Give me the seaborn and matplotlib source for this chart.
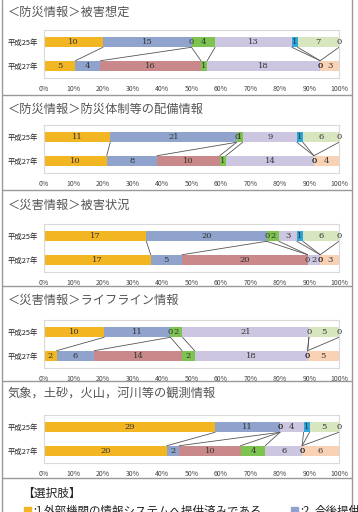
import numpy as np
import pandas as pd
import seaborn as sns
import matplotlib.pyplot as plt
from matplotlib.lines import Line2D
from matplotlib.patches import Rectangle

# years on the y axis
years = ['平成25年', '平成27年']

# panel titles
titles = [
    '＜防災情報＞被害想定',
    '＜防災情報＞防災体制等の配備情報',
    '＜災害情報＞被害状況',
    '＜災害情報＞ライフライン情報',
    '気象，土砂，火山，河川等の観測情報',
]

# answer options 1..8
options = ['1', '2', '3', '4', '5', '6', '7', '8']
colors = ['#F2B622', '#8FA3CC', '#C98889', '#7DC34F',
          '#CDC6E0', '#2EA6DA', '#D8E6C0', '#F9D2B6']

# counts per option (H25 row, H27 row) for each panel
p1_h25 = [10, 15, 0, 4, 13, 1, 7, 0]
p1_h27 = [5, 4, 16, 1, 18, 0, 0, 3]
p2_h25 = [11, 21, 0, 1, 9, 1, 6, 0]
p2_h27 = [10, 8, 10, 1, 14, 0, 0, 4]
p3_h25 = [17, 20, 0, 2, 3, 1, 6, 0]
p3_h27 = [17, 5, 20, 0, 2, 0, 0, 3]
p4_h25 = [10, 11, 0, 2, 21, 0, 5, 0]
p4_h27 = [2, 6, 14, 2, 18, 0, 0, 5]
p5_h25 = [29, 11, 0, 0, 4, 1, 5, 0]
p5_h27 = [20, 2, 10, 4, 6, 0, 0, 6]

panels = [(p1_h25, p1_h27), (p2_h25, p2_h27), (p3_h25, p3_h27),
          (p4_h25, p4_h27), (p5_h25, p5_h27)]

sns.set_style('white')
plt.rcParams['font.family'] = ['Noto Sans CJK JP', 'DejaVu Sans']

W, H = 358, 512
fig = plt.figure(figsize=(W / 100, H / 100), dpi=100)

bar_y = [42, 137, 236, 332, 427]   # pixel centre of the H25 bar in each panel
title_y = [12, 109, 205, 300, 394]
seps = [95, 190, 286, 381, 478]
bar_h = 0.44
x0, x1 = 44, 339

for i, (h25, h27) in enumerate(panels):
    top = bar_y[i] - 12
    ax = fig.add_axes([x0 / W, 1 - (top + 48) / H, (x1 - x0) / W, 48 / H])

    df = pd.DataFrame({'year': np.repeat(years, len(options)),
                       'option': options * 2,
                       'count': h25 + h27})
    df['pct'] = df['count'] / df.groupby('year')['count'].transform('sum') * 100
    df['end'] = df.groupby('year')['pct'].cumsum()
    df['start'] = df['end'] - df['pct']

    # stacked bars: draw cumulative ends from the last option to the first
    for k in reversed(range(len(options))):
        sub = df[df['option'] == options[k]]
        sns.barplot(data=sub, x='end', y='year', order=years, orient='h',
                    color=colors[k], saturation=1, width=bar_h,
                    linewidth=0, ax=ax)

    # value labels
    for _, r in df.iterrows():
        yi = years.index(r['year'])
        ax.text((r['start'] + r['end']) / 2, yi, str(int(r['count'])),
                ha='center', va='center', fontsize=6,
                family='DejaVu Serif', color='#333333')

    # series lines between the two bars
    e25 = df[df['year'] == years[0]]['end'].values
    e27 = df[df['year'] == years[1]]['end'].values
    for a, b in zip(e25, e27):
        ax.plot([a, b], [bar_h / 2, 1 - bar_h / 2], color='#555555', lw=0.6)

    ax.set_xlim(0, 100)
    ax.set_ylim(1.5, -0.5)
    ax.set_xticks(range(0, 101, 10))
    ax.set_xticklabels([f'{t}%' for t in range(0, 101, 10)])
    ax.tick_params(axis='x', labelsize=5, length=0, pad=5, colors='#444444')
    ax.tick_params(axis='y', labelsize=5.3, length=0, pad=4, colors='#222222')
    ax.set_xlabel('')
    ax.set_ylabel('')
    for s in ax.spines.values():
        s.set_color('#d9d9d9')
        s.set_linewidth(0.8)

    fig.text(8 / W, 1 - title_y[i] / H, titles[i], fontsize=8.8,
             color='#555555', va='center', ha='left')

# panel frame and separators
for y in seps:
    fig.add_artist(Line2D([2 / W, 352 / W], [1 - y / H, 1 - y / H],
                          color='#999999', lw=1))
fig.add_artist(Line2D([2 / W, 2 / W], [0, 1], color='#999999', lw=1))
fig.add_artist(Line2D([352 / W, 352 / W], [0, 1], color='#999999', lw=1))

# legend block (cut off at the bottom of the image)
fig.text(22 / W, 1 - 493 / H, '【選択肢】', fontsize=8.5, va='center', color='#222222')
fig.add_artist(Rectangle((24 / W, 1 - 514 / H), 7 / W, 7 / H,
                         transform=fig.transFigure, color=colors[0]))
fig.text(33 / W, 1 - 511 / H, ':1', fontsize=8, va='center', color='#222222')
fig.text(44 / W, 1 - 511 / H, '外部機関の情報システムへ提供済みである',
         fontsize=8.3, va='center', color='#222222')
fig.add_artist(Rectangle((291 / W, 1 - 514 / H), 7 / W, 7 / H,
                         transform=fig.transFigure, color=colors[1]))
fig.text(300 / W, 1 - 511 / H, ':2', fontsize=8, va='center', color='#222222')
fig.text(315 / W, 1 - 511 / H, '今後提供予定である',
         fontsize=8.3, va='center', color='#222222')

fig.savefig('out.png', dpi=100)
